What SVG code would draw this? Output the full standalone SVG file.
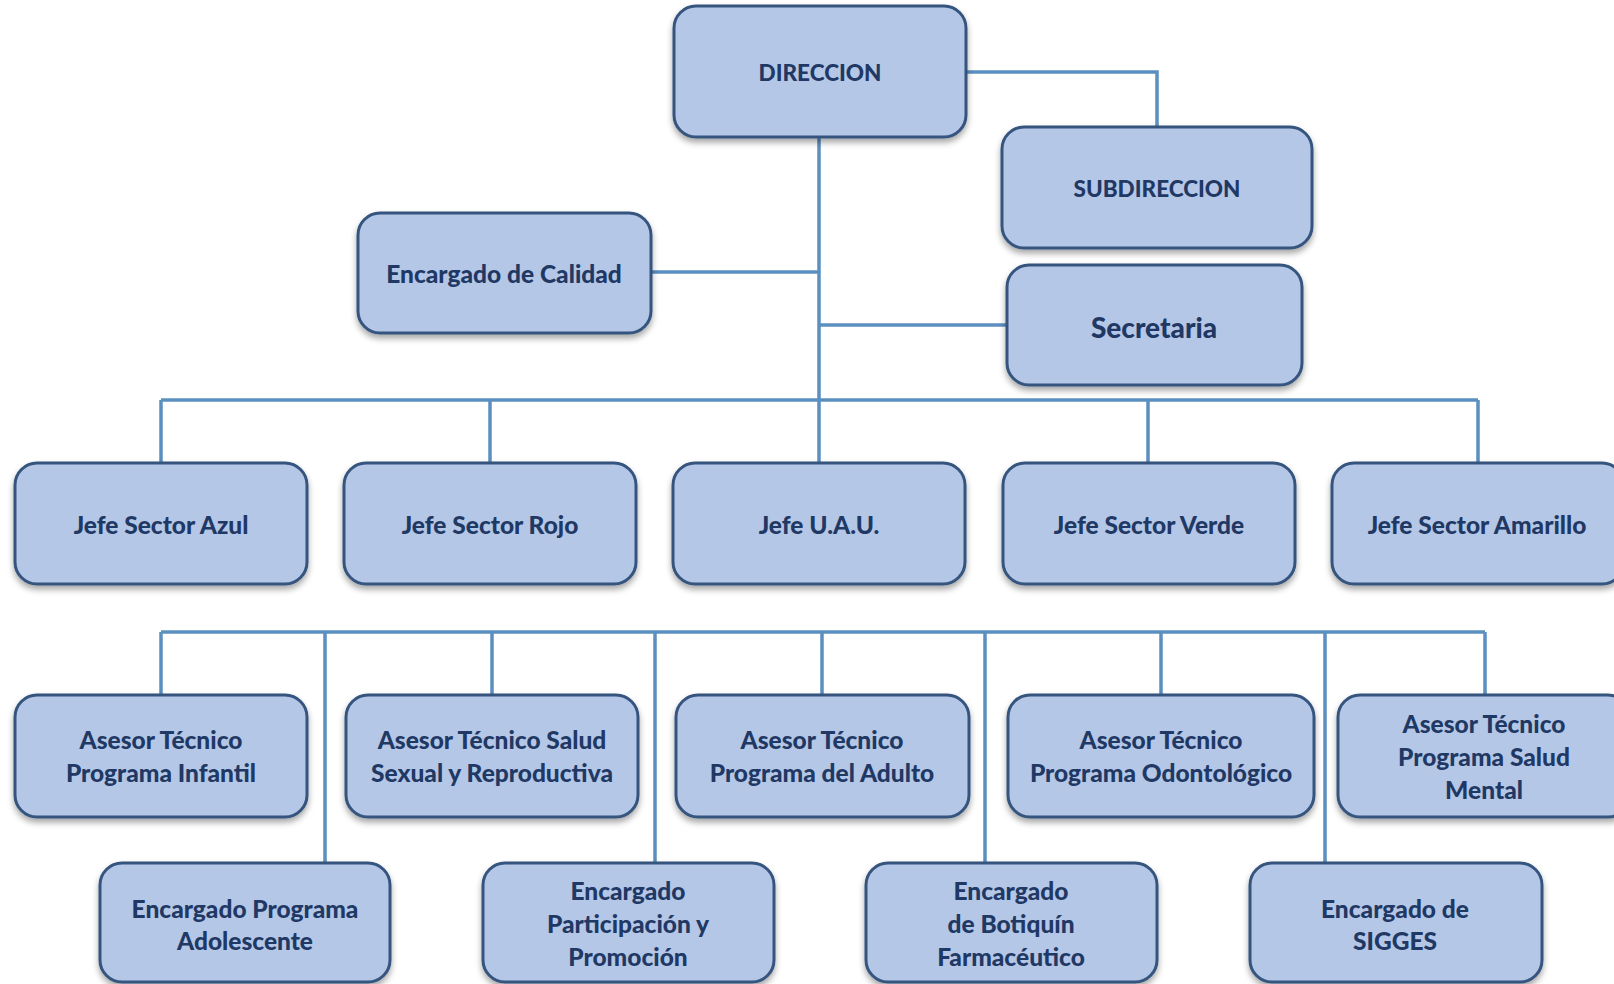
<svg xmlns="http://www.w3.org/2000/svg" width="1614" height="984" viewBox="0 0 1614 984">
<style>
.box{fill:#b4c7e7;stroke:#35557f;stroke-width:3;filter:url(#sh)}
.t{font-family:Lato,"Open Sans","Liberation Sans",sans-serif;font-weight:900;font-size:24.5px;fill:#1f3864;text-anchor:middle;dominant-baseline:central}
.u{font-size:22.5px}
.c{fill:none;stroke:#5b8fc0;stroke-width:3.5}
</style>
<defs>
<filter id="sh" x="-10%" y="-10%" width="120%" height="130%">
<feDropShadow dx="0" dy="4" stdDeviation="3" flood-color="#000" flood-opacity="0.35"/>
</filter>
</defs>
<rect width="1614" height="984" fill="#fff"/>
<g id="connectors">
<path class="c" d="M966 72 H1157 V127"/>
<path class="c" d="M819 137 V463"/>
<path class="c" d="M651 272 H819"/>
<path class="c" d="M819 325 H1007"/>
<path class="c" d="M161 400 H1478"/>
<path class="c" d="M161 400 V463 M490 400 V463 M1148 400 V463 M1478 400 V463"/>
<path class="c" d="M161 632 H1485"/>
<path class="c" d="M161 632 V695 M492 632 V695 M822 632 V695 M1161 632 V695 M1485 632 V695"/>
<path class="c" d="M325 632 V863 M655 632 V863 M985 632 V863 M1325 632 V863"/>
</g>
<g id="direccion"><rect class="box" x="674" y="6" width="292" height="131" rx="22"/><text class="t u" x="820" y="72">DIRECCION</text></g>
<g id="subdireccion"><rect class="box" x="1002" y="127" width="310" height="121" rx="22"/><text class="t u" x="1157" y="188">SUBDIRECCION</text></g>
<g id="calidad"><rect class="box" x="358" y="213" width="293" height="120" rx="22"/><text class="t" x="504" y="273">Encargado de Calidad</text></g>
<g id="secretaria"><rect class="box" x="1007" y="265" width="295" height="120" rx="22"/><text class="t" x="1154" y="327" style="font-size:28px">Secretaria</text></g>
<g id="jefe-azul"><rect class="box" x="15" y="463" width="292" height="121" rx="22"/><text class="t" x="161" y="524">Jefe Sector Azul</text></g>
<g id="jefe-rojo"><rect class="box" x="344" y="463" width="292" height="121" rx="22"/><text class="t" x="490" y="524">Jefe Sector Rojo</text></g>
<g id="jefe-uau"><rect class="box" x="673" y="463" width="292" height="121" rx="22"/><text class="t" x="819" y="524">Jefe U.A.U.</text></g>
<g id="jefe-verde"><rect class="box" x="1003" y="463" width="292" height="121" rx="22"/><text class="t" x="1149" y="524">Jefe Sector Verde</text></g>
<g id="jefe-amarillo"><rect class="box" x="1332" y="463" width="292" height="121" rx="22"/><text class="t" x="1477" y="524">Jefe Sector Amarillo</text></g>
<g id="asesor-infantil"><rect class="box" x="15" y="695" width="292" height="122" rx="22"/><text class="t" x="161" y="739">Asesor Técnico</text><text class="t" x="161" y="772">Programa Infantil</text></g>
<g id="asesor-sexual"><rect class="box" x="346" y="695" width="292" height="122" rx="22"/><text class="t" x="492" y="739">Asesor Técnico Salud</text><text class="t" x="492" y="772">Sexual y Reproductiva</text></g>
<g id="asesor-adulto"><rect class="box" x="676" y="695" width="293" height="122" rx="22"/><text class="t" x="822" y="739">Asesor Técnico</text><text class="t" x="822" y="772">Programa del Adulto</text></g>
<g id="asesor-odonto"><rect class="box" x="1008" y="695" width="306" height="122" rx="22"/><text class="t" x="1161" y="739">Asesor Técnico</text><text class="t" x="1161" y="772">Programa Odontológico</text></g>
<g id="asesor-mental"><rect class="box" x="1338" y="695" width="292" height="122" rx="22"/><text class="t" x="1484" y="723">Asesor Técnico</text><text class="t" x="1484" y="756">Programa Salud</text><text class="t" x="1484" y="789">Mental</text></g>
<g id="enc-adolescente"><rect class="box" x="100" y="863" width="290" height="119" rx="22"/><text class="t" x="245" y="908">Encargado Programa</text><text class="t" x="245" y="940">Adolescente</text></g>
<g id="enc-participacion"><rect class="box" x="483" y="863" width="291" height="119" rx="22"/><text class="t" x="628" y="890">Encargado</text><text class="t" x="628" y="923">Participación y</text><text class="t" x="628" y="956">Promoción</text></g>
<g id="enc-botiquin"><rect class="box" x="866" y="863" width="291" height="119" rx="22"/><text class="t" x="1011" y="890">Encargado</text><text class="t" x="1011" y="923">de Botiquín</text><text class="t" x="1011" y="956">Farmacéutico</text></g>
<g id="enc-sigges"><rect class="box" x="1250" y="863" width="292" height="119" rx="22"/><text class="t" x="1395" y="908">Encargado de</text><text class="t" x="1395" y="940">SIGGES</text></g>
</svg>
